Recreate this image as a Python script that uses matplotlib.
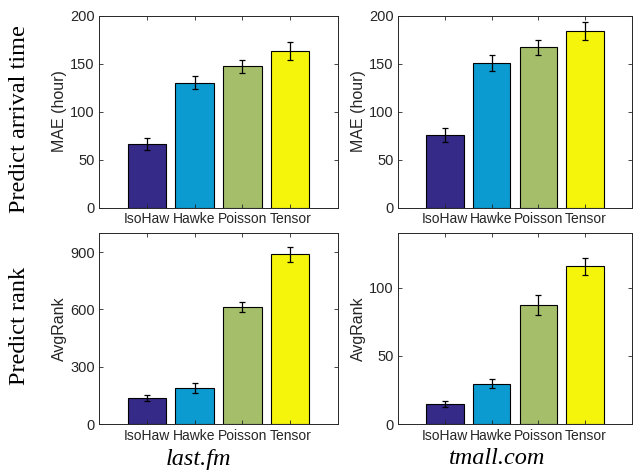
import matplotlib
matplotlib.use("Agg")
import matplotlib.pyplot as plt

methods = ["IsoHaw", "Hawke", "Poisson", "Tensor"]
colors = ["#352a87", "#0b9bd0", "#a5be6a", "#f5f50c"]

# arrival time MAE (hour)
mae_lastfm = [66, 130, 147, 163]
mae_lastfm_err = [6.5, 7, 7, 9]
mae_tmall = [76, 150.5, 167, 184]
mae_tmall_err = [7.3, 8.3, 8, 9]

# average rank
rank_lastfm = [137, 188, 613, 888]
rank_lastfm_err = [17, 26, 28, 40]
rank_tmall = [14.6, 29.6, 87, 115.5]
rank_tmall_err = [2.3, 3.2, 7.2, 6]

plt.rcParams["font.family"] = ["Liberation Sans", "DejaVu Sans"]

fig = plt.figure(figsize=(6.35, 4.7), dpi=100)

W, H = 635.0, 470.0
def box(x0, y0, x1, y1):
    return [x0 / W, (H - y1) / H, (x1 - x0) / W, (y1 - y0) / H]

panels = [
    (box(99, 15.5, 338, 207.5), mae_lastfm, mae_lastfm_err, 200, [0, 50, 100, 150, 200], "MAE (hour)"),
    (box(398, 15.5, 632, 207.5), mae_tmall, mae_tmall_err, 200, [0, 50, 100, 150, 200], "MAE (hour)"),
    (box(99, 233, 338, 424), rank_lastfm, rank_lastfm_err, 1000, [0, 300, 600, 900], "AvgRank"),
    (box(398, 233, 632, 424), rank_tmall, rank_tmall_err, 140, [0, 50, 100], "AvgRank"),
]

x = [1, 2, 3, 4]
for rect, vals, errs, ytop, yt, ylab in panels:
    ax = fig.add_axes(rect)
    ax.bar(x, vals, width=0.8, color=colors, edgecolor="black", linewidth=0.8)
    ax.errorbar(x, vals, yerr=errs, fmt="none", ecolor="black", elinewidth=0.9,
                capsize=2.5, capthick=0.9)
    ax.set_xlim(0, 5)
    ax.set_ylim(0, ytop)
    ax.set_xticks(x)
    ax.set_xticklabels(methods)
    ax.set_yticks(yt)
    ax.set_ylabel(ylab, fontsize=11.5, color="#262626", labelpad=2)
    ax.tick_params(direction="in", length=3, width=0.6, top=True, right=True,
                   labelsize=10.5, labelcolor="#262626", colors="#262626", pad=3)
    ax.tick_params(axis="x", labelsize=10, pad=3.5)
    for s in ax.spines.values():
        s.set_linewidth(0.7)
        s.set_color("#262626")

serif = ["Liberation Serif", "DejaVu Serif"]
fig.text(20 / W, 1 - 119 / H, "Predict arrival time", rotation=90, ha="center", va="center",
         fontsize=17.5, family=serif)
fig.text(20 / W, 1 - 326 / H, "Predict rank", rotation=90, ha="center", va="center",
         fontsize=17.5, family=serif)
fig.text(198 / W, 1 - 459 / H, "last.fm", ha="center", va="center",
         fontsize=17.5, style="italic", family=serif)
fig.text(497 / W, 1 - 459 / H, "tmall.com", ha="center", va="center",
         fontsize=17.5, style="italic", family=serif)

fig.savefig("out.png", dpi=100)
